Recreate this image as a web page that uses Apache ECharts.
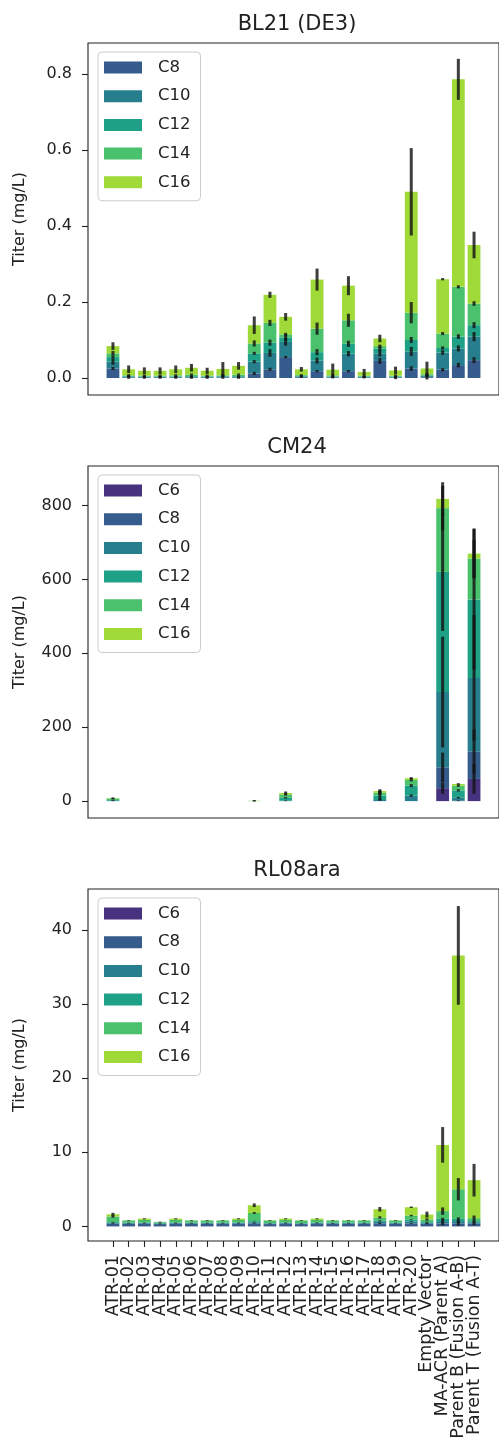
<!DOCTYPE html>
<html>
<head>
<meta charset="utf-8">
<script src="https://cdn.jsdelivr.net/npm/echarts@6/dist/echarts.min.js"></script>
<style>
html,body{margin:0;padding:0;background:#fff;}
#main{width:499px;height:1451px;}
</style>
</head>
<body>
<div id="main"></div>
<script>
// categories
var strains = ['ATR-01','ATR-02','ATR-03','ATR-04','ATR-05','ATR-06','ATR-07','ATR-08','ATR-09','ATR-10',
    'ATR-11','ATR-12','ATR-13','ATR-14','ATR-15','ATR-16','ATR-17','ATR-18','ATR-19','ATR-20',
    'Empty Vector','MA-ACR (Parent A)','Parent B (Fusion A-B)','Parent T (Fusion A-T)'];
var chainColors = {C6:'#46327e', C8:'#365c8d', C10:'#277f8e', C12:'#1fa187', C14:'#4ac16d', C16:'#a0da39'};

// BL21 (DE3)
var bl21_c8  = [.025,.001,.001,.001,.001,.001,.001,.001,.001,.012,.023,.055,.002,.018,.001,.018,.001,.045,.001,.025,.002,.022,.034,.047];
var bl21_c10 = [.018,.003,.002,.002,.002,.002,.002,.003,.002,.031,.043,.040,.002,.028,.002,.046,.002,.020,.002,.045,.003,.045,.044,.062];
var bl21_c12 = [.012,.001,.001,.001,.001,.002,.001,.001,.002,.022,.027,.012,.002,.022,.001,.026,.001,.012,.001,.030,.002,.012,.031,.030];
var bl21_c14 = [.010,.002,.002,.002,.003,.004,.002,.002,.004,.026,.052,.008,.002,.062,.003,.062,.002,.007,.002,.072,.003,.038,.131,.057];
var bl21_c16 = [.019,.016,.013,.013,.016,.018,.013,.017,.023,.048,.074,.046,.015,.129,.015,.091,.010,.020,.014,.318,.015,.143,.546,.154];
var bl21_c8_err  = [.004,.003,.003,.003,.003,.003,.003,.003,.003,.004,.004,.003,.002,.003,.002,.003,.002,.008,.004,.006,.006,.004,.006,.008];
var bl21_c10_err = [.008,.002,.002,.002,.002,.002,.002,.002,.002,.004,.010,.010,.002,.008,.002,.007,.002,.008,.002,.012,.003,.006,.008,.012];
var bl21_c12_err = [.004,.002,.002,.002,.002,.002,.002,.002,.002,.004,.008,.008,.002,.008,.002,.008,.002,.006,.002,.008,.002,.004,.006,.008];
var bl21_c14_err = [.006,.003,.003,.003,.003,.003,.003,.003,.003,.008,.008,.004,.002,.016,.003,.017,.003,.004,.003,.028,.003,.004,.004,.006];
var bl21_c16_err = [.010,.010,.009,.009,.010,.010,.008,.018,.010,.023,.008,.010,.006,.029,.016,.025,.008,.010,.010,.115,.018,.003,.054,.035];
var bl21_ticks = [0, 0.2, 0.4, 0.6, 0.8];

// CM24
var cm24_c6  = [0,0,0,0,0,0,0,0,0,0,0,0,0,0,0,0,0,0,0,0,0,35,0,60];
var cm24_c8  = [0,0,0,0,0,0,0,0,0,0,0,0,0,0,0,0,0,0,0,0,0,56.5,1,74.5];
var cm24_c10 = [1,0,0,0,0,0,0,0,0,0,0,1,0,0,0,0,0,3,0,15,0,203.5,8,199];
var cm24_c12 = [2,0,0,0,0,0,0,0,0,0,0,8,0,0,0,0,0,12,0,27,0,325.6,20,212.5];
var cm24_c14 = [4,0,0,0,0,0,0,0,0,0.6,0,9,0,0,0,0,0,8,0,15.4,0,172.4,13,110.5];
var cm24_c16 = [1,0,0,0,0,0,0,0,0,0.4,0,4,0,0,0,0,0,4,0,4.5,0,25,4.5,13.5];
var cm24_c6_err  = [0,0,0,0,0,0,0,0,0,0,0,0,0,0,0,0,0,0,0,0,0,15,0,40];
var cm24_c8_err  = [0,0,0,0,0,0,0,0,0,0,0,0,0,0,0,0,0,0,0,0,0,40,1,60];
var cm24_c10_err = [1,0,0,0,0,0,0,0,0,0,0,1,0,0,0,0,0,2,0,3,0,150,2,170];
var cm24_c12_err = [1,0,0,0,0,0,0,0,0,0,0,2,0,0,0,0,0,12,0,4,0,160,3,190];
var cm24_c14_err = [1.5,0,0,0,0,0,0,0,0,1.5,0,3,0,0,0,0,0,6,0,4,0,60,3,50];
var cm24_c16_err = [2,0,0,0,0,0,0,0,0,1.5,0,4,0,0,0,0,0,5,0,3,0,45,2,68];
var cm24_ticks = [0, 200, 400, 600, 800];

// RL08ara
var rl08_c6  = [.02,.02,.02,.02,.02,.02,.02,.02,.02,.02,.02,.02,.02,.02,.02,.02,.02,.02,.02,.02,.02,.02,.02,.02];
var rl08_c8  = [.35,.33,.35,.30,.35,.33,.33,.33,.35,.40,.30,.35,.30,.35,.33,.33,.33,.40,.33,.40,.35,.40,.40,.35];
var rl08_c10 = [.12,.10,.10,.08,.10,.10,.10,.10,.10,.15,.08,.10,.08,.10,.10,.10,.10,.20,.10,.25,.12,.30,.30,.20];
var rl08_c12 = [.10,.06,.07,.05,.07,.06,.06,.06,.07,.15,.05,.07,.05,.07,.06,.06,.06,.20,.06,.25,.10,.30,.30,.15];
var rl08_c14 = [.75,.30,.34,.14,.34,.30,.30,.30,.34,1.10,.36,.34,.36,.34,.30,.30,.30,.40,.30,.55,.35,1.05,4.00,.40];
var rl08_c16 = [.30,.02,.18,.02,.18,.02,.02,.02,.18,1.04,.02,.18,.02,.18,.02,.02,.02,1.10,.02,1.12,.66,8.93,31.53,5.12];
var rl08_c6_err  = [0,0,0,0,0,0,0,0,0,0,0,0,0,0,0,0,0,0,0,0,0,0,0,0];
var rl08_c8_err  = [.05,.03,.03,.03,.03,.03,.03,.03,.03,.05,.03,.03,.03,.03,.03,.03,.03,.08,.03,.05,.08,.25,.30,.20];
var rl08_c10_err = [.03,.02,.02,.02,.02,.02,.02,.02,.02,.03,.02,.02,.02,.02,.02,.02,.02,.05,.02,.05,.05,.15,.15,.10];
var rl08_c12_err = [.03,.02,.02,.02,.02,.02,.02,.02,.02,.03,.02,.02,.02,.02,.02,.02,.02,.05,.02,.05,.05,.15,.20,.10];
var rl08_c14_err = [.15,.03,.03,.03,.03,.03,.03,.03,.03,.12,.03,.03,.03,.03,.03,.03,.03,.15,.03,.10,.15,.50,1.50,.35];
var rl08_c16_err = [.20,.03,.05,.03,.05,.03,.03,.03,.05,.25,.03,.05,.03,.05,.03,.03,.03,.30,.03,.10,.40,2.40,6.65,2.20];
var rl08_ticks = [0, 10, 20, 30, 40];

var panels = [
    {title:'BL21 (DE3)', chains:['C8','C10','C12','C14','C16'],
     values:[bl21_c8,bl21_c10,bl21_c12,bl21_c14,bl21_c16],
     errors:[bl21_c8_err,bl21_c10_err,bl21_c12_err,bl21_c14_err,bl21_c16_err],
     ticks:bl21_ticks, min:-0.0447, max:0.8816, fmt:function(v){return v.toFixed(1);}},
    {title:'CM24', chains:['C6','C8','C10','C12','C14','C16'],
     values:[cm24_c6,cm24_c8,cm24_c10,cm24_c12,cm24_c14,cm24_c16],
     errors:[cm24_c6_err,cm24_c8_err,cm24_c10_err,cm24_c12_err,cm24_c14_err,cm24_c16_err],
     ticks:cm24_ticks, min:-45.7, max:907, fmt:function(v){return String(v);}},
    {title:'RL08ara', chains:['C6','C8','C10','C12','C14','C16'],
     values:[rl08_c6,rl08_c8,rl08_c10,rl08_c12,rl08_c14,rl08_c16],
     errors:[rl08_c6_err,rl08_c8_err,rl08_c10_err,rl08_c12_err,rl08_c14_err,rl08_c16_err],
     ticks:rl08_ticks, min:-1.96, max:45.5, fmt:function(v){return String(v);}}
];

var gridTops = [43, 466, 889];
var font = 'DejaVu Sans';
var ink = '#222';
var tickIdx = strains.map(function(s, i){ return i; });
// blank labels at both ends, so that the min/max label check never drops a real one
var labelIdx = [-1].concat(tickIdx, [strains.length]);

var grids = [], xAxes = [], yAxes = [], titles = [], legends = [], series = [];

panels.forEach(function(p, k){
    var top = gridTops[k];
    var last = (k === panels.length - 1);
    grids.push({left:88, top:top, width:418, height:352, show:true,
        borderColor:ink, borderWidth:1.1, backgroundColor:'transparent'});
    xAxes.push({type:'value', gridIndex:k, min:-1.59, max:24.59,
        axisLine:{show:false, onZero:false}, splitLine:{show:false},
        axisTick:{show:last, customValues:tickIdx, length:6, lineStyle:{color:ink, width:1.1}},
        axisLabel:{show:last, customValues:labelIdx, hideOverlap:false,
            rotate:90, margin:14, fontFamily:font, fontSize:17.5, color:ink,
            formatter:function(v){ return strains[Math.round(v)] || ''; }}});
    yAxes.push({type:'value', gridIndex:k, min:p.min, max:p.max,
        name:'Titer (mg/L)', nameLocation:'middle', nameGap:60,
        nameTextStyle:{fontFamily:font, fontSize:16, color:ink},
        axisLine:{show:false, onZero:false}, splitLine:{show:false},
        axisTick:{show:true, customValues:p.ticks, length:6, lineStyle:{color:ink, width:1.1}},
        axisLabel:{customValues:p.ticks, margin:16, fontFamily:font, fontSize:16, color:ink, formatter:p.fmt}});
    titles.push({text:p.title, left:297, top:top - 29, textAlign:'center', padding:0,
        textStyle:{fontFamily:font, fontSize:21, fontWeight:'normal', color:ink}});
    legends.push({orient:'vertical', left:98, top:top + 9, icon:'rect',
        itemWidth:38, itemHeight:12, itemGap:11.7, padding:[7,10,10,6],
        backgroundColor:'rgba(255,255,255,0.8)', borderColor:'#cccccc', borderWidth:1, borderRadius:4,
        itemStyle:{borderWidth:0},
        textStyle:{fontFamily:font, fontSize:16.5, color:ink, lineHeight:16, padding:[0,0,0,11]},
        selectedMode:false, data:p.chains});

    var cum = strains.map(function(){ return 0; });
    var errRows = [];
    p.chains.forEach(function(name, j){
        var vals = p.values[j];
        var errs = p.errors[j];
        // value first so that the stacked dimension is the titer, not the position
        series.push({type:'bar', name:name, xAxisIndex:k, yAxisIndex:k, stack:'panel' + k,
            barWidth:12.8, silent:true, encode:{x:1, y:0},
            itemStyle:{color:chainColors[name]},
            data:vals.map(function(v, i){ return [v, i]; })});
        vals.forEach(function(v, i){
            cum[i] += v;
            if (errs[i] > 0) errRows.push([i, cum[i] - errs[i], cum[i] + errs[i]]);
        });
    });
    series.push({type:'custom', xAxisIndex:k, yAxisIndex:k, silent:true, z:5,
        encode:{x:0, y:[1,2]}, data:errRows,
        renderItem:function(params, api){
            var a = api.coord([api.value(0), api.value(1)]);
            var b = api.coord([api.value(0), api.value(2)]);
            return {type:'line', shape:{x1:a[0], y1:a[1], x2:b[0], y2:b[1]},
                style:{stroke:'rgba(20,20,20,0.82)', lineWidth:3}};
        }});
});

var myChart = echarts.init(document.getElementById('main'));
myChart.setOption({
    animation:false,
    title:titles,
    legend:legends,
    grid:grids,
    xAxis:xAxes,
    yAxis:yAxes,
    series:series
});
</script>
</body>
</html>
